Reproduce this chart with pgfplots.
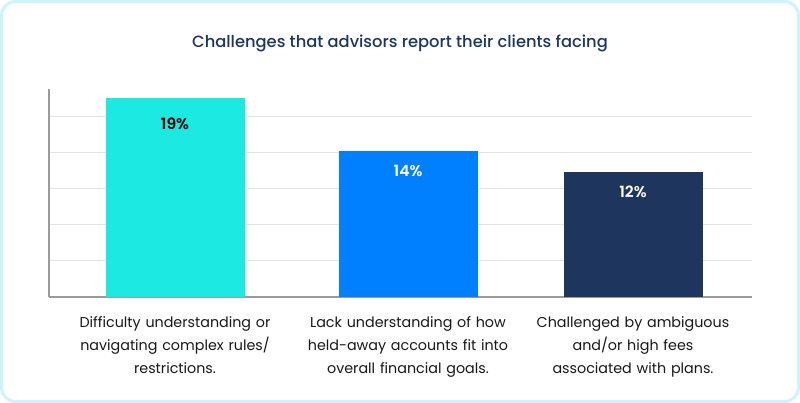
\documentclass[border=0pt]{standalone}
\usepackage{pgfplots}
\pgfplotsset{compat=1.18}
\usepackage{fontspec}
\setmainfont{Poppins}
\newfontfamily\medfont{Poppins Medium}
\newfontfamily\semifont{Poppins SemiBold}
\definecolor{cardborder}{HTML}{CFF3FC}
\definecolor{barcyan}{HTML}{1BE9E2}
\definecolor{barblue}{HTML}{0080FF}
\definecolor{barnavy}{HTML}{1E355E}
\definecolor{titlecol}{HTML}{1E3560}
\definecolor{gridcol}{HTML}{E3E3E3}
\definecolor{axiscol}{HTML}{9A9A9A}
\begin{document}
\begin{tikzpicture}[x=1pt,y=1pt]
\useasboundingbox (0,0) rectangle (800,403);
\fill[white, rounded corners=14pt] (1.5,1.5) rectangle (798.5,401.5);
\draw[cardborder, line width=3pt, rounded corners=14pt] (1.5,1.5) rectangle (798.5,401.5);
\node[font=\medfont\fontsize{16.3}{18}\selectfont, text=titlecol] at (400,360) {Challenges that advisors report their clients facing};
\begin{axis}[
  at={(49pt,106pt)}, anchor=south west,
  scale only axis, width=703pt, height=208pt,
  xmin=49, xmax=752, ymin=0, ymax=19.9,
  axis lines*=left,
  axis line style={axiscol, line width=1.1pt},
  ytick={3.45,6.9,10.35,13.8,17.25},
  yticklabels={},
  ymajorgrids, grid style={gridcol, line width=1pt},
  major tick length=0pt,
  xtick={175,408,633},
  xticklabels={{Difficulty understanding or\\navigating complex rules/\\restrictions.},
               {Lack understanding of how\\held-away accounts fit into\\overall financial goals.},
               {Challenged by ambiguous\\and/or high fees\\associated with plans.}},
  xticklabel style={text width=230pt, align=center, font=\fontsize{14.3}{23}\selectfont, text=black!90, inner sep=0pt, anchor=north, yshift=-19pt},
  ybar, bar width=139pt,
  clip=false,
]
\addplot[fill=barcyan, draw=none, bar shift=0pt, nodes near coords={19\%},
  every node near coord/.append style={anchor=center, yshift=-25pt, font=\semifont\fontsize{15.5}{17}\selectfont, text=black}]
  coordinates {(175,19)};
\addplot[fill=barblue, draw=none, bar shift=0pt, nodes near coords={14\%},
  every node near coord/.append style={anchor=center, yshift=-20pt, font=\semifont\fontsize{15.5}{17}\selectfont, text=white}]
  coordinates {(408,14)};
\addplot[fill=barnavy, draw=none, bar shift=0pt, nodes near coords={12\%},
  every node near coord/.append style={anchor=center, yshift=-20pt, font=\semifont\fontsize{15.5}{17}\selectfont, text=white}]
  coordinates {(633,12)};
\end{axis}
\end{tikzpicture}
\end{document}
